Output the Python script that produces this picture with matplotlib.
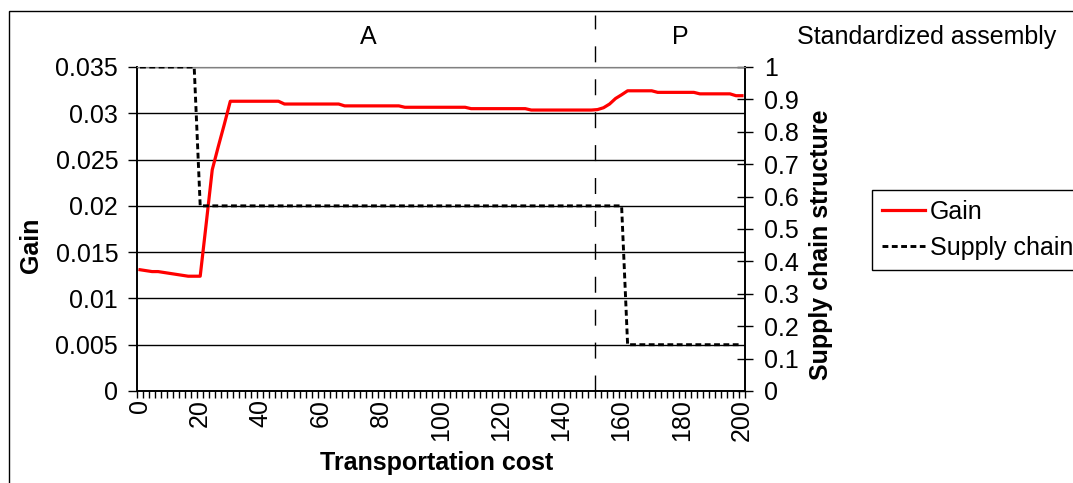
import matplotlib
matplotlib.use("Agg")
import matplotlib.pyplot as plt
from matplotlib.patches import Rectangle
from matplotlib.ticker import FuncFormatter, MultipleLocator

plt.rcParams['font.family'] = ['Liberation Sans', 'DejaVu Sans']

# transportation cost categories (every 2 units)
cost = list(range(0, 201, 2))

# gain
gain = ([0.0131, 0.0130, 0.0129, 0.0129, 0.0128, 0.0127, 0.0126, 0.0125,
         0.0124, 0.0124, 0.0124, 0.0181, 0.0239, 0.0264, 0.0288, 0.0313]
        + [0.0313] * 8
        + [0.0310] * 10
        + [0.0308] * 10
        + [0.03065] * 11
        + [0.0305] * 10
        + [0.03035] * 11
        + [0.0304, 0.0306, 0.0310, 0.0316, 0.0320]
        + [0.03243] * 5
        + [0.03226] * 7
        + [0.0321] * 6
        + [0.0319, 0.0319])

# supply chain structure
supply = [1.0] * 10 + [0.5714] * 71 + [0.1429] * 20

regime_split = 151
regime_labels = ['A', 'P']
fs = 18

W, H = 1073, 483
fig = plt.figure(figsize=(W / 100, H / 100), dpi=100)
ax = fig.add_axes([137 / W, 1 - 391 / H, (745 - 137) / W, (391 - 67) / H])
ax2 = ax.twinx()

# outer chart border
fig.patches.append(Rectangle((9 / W, -0.1), 1.2, 1 - 11 / H + 0.1,
                             transform=fig.transFigure, fill=False,
                             ec='black', lw=1.0))

ax.plot(cost, gain, color='#ff0000', lw=2.3, zorder=4)
l2, = ax2.plot(cost, supply, color='black', lw=2.1, linestyle=(0, (2.0, 1.2)),
               label='Supply chain', zorder=3)
l1 = plt.Line2D([], [], color='#ff0000', lw=2.3)

ax.set_xlim(-1, 201)
ax.set_ylim(0, 0.035)
ax2.set_ylim(0, 1)

ax.xaxis.set_major_locator(MultipleLocator(20))
ax.xaxis.set_minor_locator(MultipleLocator(2, offset=1))
ax.tick_params(axis='x', which='major', length=0, pad=6, labelsize=fs,
               labelrotation=90)
ax.tick_params(axis='x', which='minor', length=5, width=1, direction='out')
ax.yaxis.set_major_locator(MultipleLocator(0.005))
ax.yaxis.set_major_formatter(FuncFormatter(lambda v, p: '%g' % round(v, 4)))
ax.tick_params(axis='y', length=6.5, width=1, pad=7, labelsize=fs)

ax2.yaxis.set_major_locator(MultipleLocator(0.1))
ax2.yaxis.set_major_formatter(FuncFormatter(lambda v, p: '%g' % round(v, 2)))
ax2.tick_params(axis='y', direction='inout', length=11.5, width=1, pad=8,
                labelsize=fs)

ax.grid(axis='y', color='black', lw=1)
ax.get_ygridlines()[-1].set_color('#808080')
for a in (ax, ax2):
    a.spines['top'].set_color('#808080')
    a.spines['left'].set_linewidth(1.2)
    a.spines['right'].set_linewidth(1.2)
    a.spines['bottom'].set_linewidth(1.2)

ax.axvline(regime_split, ymin=0, ymax=(391 - 15) / 324, color='black', lw=1,
           linestyle=(0, (11.5, 12.2)), clip_on=False)

ax.set_xlabel('Transportation cost', fontsize=fs, fontweight='bold',
              va='center')
ax.xaxis.set_label_coords(0.493, -0.222)
ax.set_ylabel('Gain', fontsize=fs, fontweight='bold', va='center')
ax.yaxis.set_label_coords(-0.174, 0.45)
ax2.set_ylabel('Supply chain structure', fontsize=fs, fontweight='bold',
               va='center')
ax2.yaxis.set_label_coords(1.125, 0.45)

fig.text(368 / W, 1 - 37 / H, regime_labels[0], ha='center', va='center',
         fontsize=fs)
fig.text(680 / W, 1 - 37 / H, regime_labels[1], ha='center', va='center',
         fontsize=fs)
fig.text(797 / W, 1 - 37 / H, 'Standardized assembly', ha='left',
         va='center', fontsize=fs)

leg = ax2.legend([l1, l2], ['Gain', 'Supply chain'], loc='upper left',
                 bbox_to_anchor=(872 / W, 1 - 190 / H),
                 bbox_transform=fig.transFigure, fontsize=fs, frameon=True,
                 fancybox=False, edgecolor='black', framealpha=1,
                 borderaxespad=0, handlelength=1.7, handletextpad=0.2,
                 borderpad=0.4, labelspacing=0.47)
leg.get_frame().set_linewidth(1)

fig.savefig('out.png', dpi=100)
